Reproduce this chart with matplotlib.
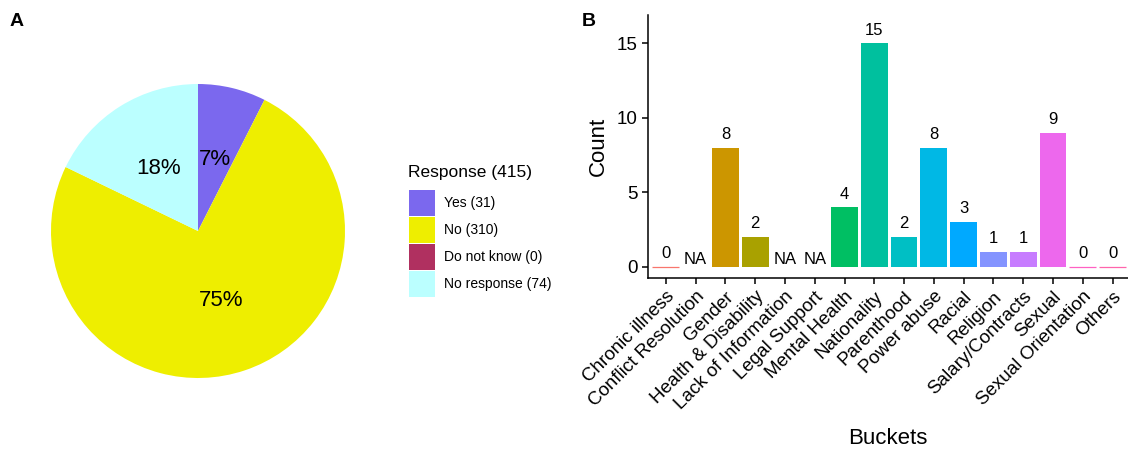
import matplotlib
matplotlib.use("Agg")
import matplotlib.pyplot as plt
import numpy as np
from matplotlib.patches import Patch

plt.rcParams['font.family'] = ['Liberation Sans', 'DejaVu Sans']

# ---- data ----
responses = ["Yes", "No", "Do not know", "No response"]
response_counts = [31, 310, 0, 74]
response_colors = ["#7B68EE", "#EEEE00", "#B03060", "#BBFFFF"]

buckets = ["Chronic illness", "Conflict Resolution", "Gender", "Health & Disability",
           "Lack of Information", "Legal Support", "Mental Health", "Nationality",
           "Parenthood", "Power abuse", "Racial", "Religion", "Salary/Contracts",
           "Sexual", "Sexual Orientation", "Others"]
counts = [0, None, 8, 2, None, None, 4, 15, 2, 8, 3, 1, 1, 9, 0, 0]
bar_colors = ["#F8766D", "#E7851E", "#CC9600", "#A9A100", "#7CAE00", "#3BB300",
              "#00BF63", "#00C09E", "#00BFC4", "#00B8E5", "#00A9FF", "#8494FF",
              "#C77CFF", "#ED68ED", "#FF61C3", "#FF65AC"]

fig = plt.figure(figsize=(11.28, 4.5), dpi=100)
W, H = 1128, 450

# ---- Panel A: pie ----
cx, cy, r = 198, 231, 147
axp = fig.add_axes([(cx - r) / W, (H - cy - r) / H, 2 * r / W, 2 * r / H])
total = sum(response_counts)

def fmt(p):
    return f"{round(p)}%" if p > 0 else ""

axp.pie(response_counts, colors=response_colors, startangle=90, counterclock=False,
        autopct=fmt, pctdistance=0.5, wedgeprops=dict(linewidth=0),
        textprops=dict(fontsize=16, color="black"))
axp.set_xlim(-1, 1)
axp.set_ylim(-1, 1)
axp.set_aspect('equal')

labels = [f"{n} ({c})" for n, c in zip(responses, response_counts)]
handles = [Patch(facecolor=c, edgecolor='none') for c in response_colors]
fig.text(408 / W, 1 - 173 / H, f"Response ({total})", fontsize=12.5, va='center', ha='left')
fig.legend(handles, labels, loc='upper left', bbox_to_anchor=(409 / W, 1 - 190 / H),
           frameon=False, fontsize=10, handlelength=1.87, handleheight=2.5,
           labelspacing=0.07, handletextpad=0.65, borderpad=0, borderaxespad=0)

fig.text(10 / W, 1 - 22 / H, "A", fontsize=14, fontweight='bold', va='center')
fig.text(582 / W, 1 - 22 / H, "B", fontsize=14, fontweight='bold', va='center')

# ---- Panel B: bars ----
left, right, top, bottom = 648, 1128, 15, 277.7
axb = fig.add_axes([left / W, (H - bottom) / H, (right - left) / W, (bottom - top) / H])
x = np.arange(len(buckets))
for i, (v, c) in enumerate(zip(counts, bar_colors)):
    if v is None:
        axb.annotate("NA", (i, 0), xytext=(0, 0), textcoords='offset points',
                     ha='center', va='bottom', fontsize=12)
        continue
    axb.bar(i, v, width=0.9, color=c, edgecolor=c if v == 0 else 'none',
            linewidth=0.9)
    axb.annotate(str(v), (i, v), xytext=(0, 4), textcoords='offset points',
                 ha='center', va='bottom', fontsize=12)

axb.set_xlim(-0.6, 15.52)
axb.set_ylim(-0.74, 16.9)
axb.set_yticks([0, 5, 10, 15])
axb.set_xticks(x)
axb.set_xticklabels(buckets, rotation=45, ha='right', rotation_mode='anchor',
                    fontsize=13.5)
axb.tick_params(axis='y', labelsize=13.5, length=4, width=1.1)
axb.tick_params(axis='x', length=4, width=1.1)
for s in ['top', 'right']:
    axb.spines[s].set_visible(False)
for s in ['left', 'bottom']:
    axb.spines[s].set_linewidth(1.1)
axb.set_xlabel("Buckets", fontsize=16, labelpad=11)
axb.set_ylabel("Count", fontsize=16, labelpad=6)

fig.savefig("out.png", dpi=100)
